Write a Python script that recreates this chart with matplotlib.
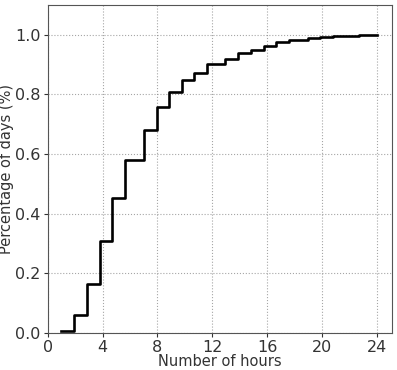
import numpy as np
import matplotlib
matplotlib.use("Agg")
import matplotlib.pyplot as plt

# step edges (hours) and cumulative share of days
hours = [1.0, 1.93, 2.88, 3.78, 4.7, 5.63, 7.02, 7.95, 8.85, 9.78, 10.68, 11.58,
         12.95, 13.9, 14.83, 15.73, 16.66, 17.58, 18.97, 19.87, 20.8, 21.72, 22.7, 23.97]
cum_share = [0.006, 0.061, 0.164, 0.307, 0.452, 0.580, 0.679, 0.758, 0.807, 0.847, 0.873, 0.900,
             0.919, 0.939, 0.950, 0.962, 0.974, 0.981, 0.989, 0.993, 0.995, 0.997, 1.0, 1.0]

x_ticks = [0, 4, 8, 12, 16, 20, 24]
y_ticks = [0.0, 0.2, 0.4, 0.6, 0.8, 1.0]

fig, ax = plt.subplots(figsize=(3.97, 3.70), dpi=100)
fig.subplots_adjust(left=0.12, right=0.988, top=0.987, bottom=0.1)

ax.step(hours, cum_share, where='post', color='black', linewidth=1.9)

ax.set_xlim(0, 25.1)
ax.set_ylim(0, 1.1)
ax.set_xticks(x_ticks)
ax.set_yticks(y_ticks)
ax.set_xticklabels([str(t) for t in x_ticks])
ax.set_yticklabels([f"{t:.1f}" for t in y_ticks])
ax.tick_params(labelsize=11.5, colors='#333333', length=3, pad=2)
for s in ax.spines.values():
    s.set_color('#555555')
ax.grid(True, linestyle=':', color='gray', linewidth=0.8, alpha=0.7)
ax.set_xlabel("Number of hours", fontsize=10.5, color='#333333', labelpad=-1)
ax.set_ylabel("Percentage of days (%)", fontsize=10.5, color='#333333', labelpad=1)

fig.savefig("out.png", dpi=100)
